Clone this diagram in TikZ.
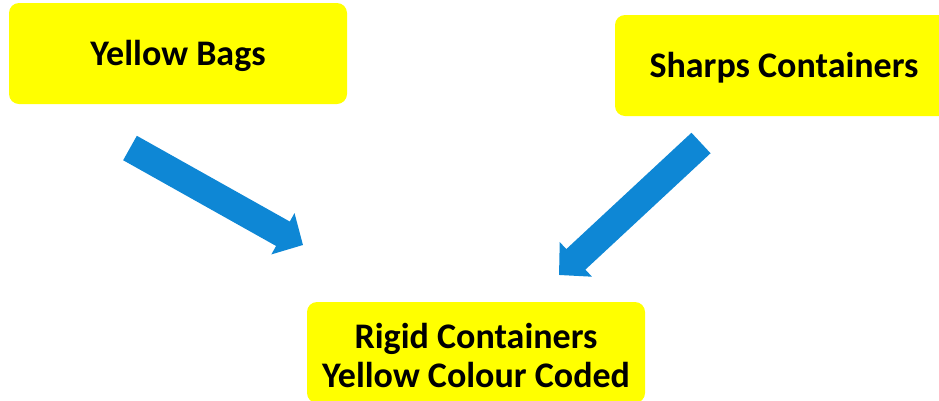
\documentclass[tikz,border=0pt]{standalone}
\usepackage{fontspec}
\setmainfont{Carlito}
\usetikzlibrary{arrows.meta}
\definecolor{boxyellow}{RGB}{255,255,0}
\definecolor{arrowblue}{RGB}{14,135,213}
\tikzset{
  wastebox/.style={fill=boxyellow, rounded corners=10pt, minimum width=338pt,
    minimum height=101pt, inner sep=0pt, align=center,
    font=\fontsize{36}{39}\selectfont\bfseries},
  oneline/.style={text height=25pt, text depth=2pt},
  boxtext/.style={inner sep=0pt, align=center,
    font=\fontsize{36}{39}\selectfont\bfseries},
  flowarrow/.style={draw=arrowblue, line width=28pt,
    -{Triangle[width=46pt,length=23pt]}}
}
\begin{document}
\begin{tikzpicture}[x=1pt,y=-1pt]
  \useasboundingbox (0,0) rectangle (939,400);
  \clip (0,0) rectangle (939,400);
  \node[wastebox, oneline] (bags) at (178,53.5) {Yellow Bags};
  \node[wastebox, oneline] (sharps) at (784,65.5) {Sharps Containers};
  \node[wastebox] (rigid) at (476,352.5) {};
  \node[boxtext] (rigidText) at ([yshift=-2.5pt]rigid.center)
    {Rigid Containers\\Yellow Colour Coded};
  \coordinate (bagsTail) at (130,148);
  \coordinate (bagsTip) at (303,245);
  \coordinate (sharpsTail) at (701,143);
  \coordinate (sharpsTip) at (559,275);
  \draw[flowarrow] (bagsTail) -- (bagsTip);
  \draw[flowarrow] (sharpsTail) -- (sharpsTip);
\end{tikzpicture}
\end{document}
